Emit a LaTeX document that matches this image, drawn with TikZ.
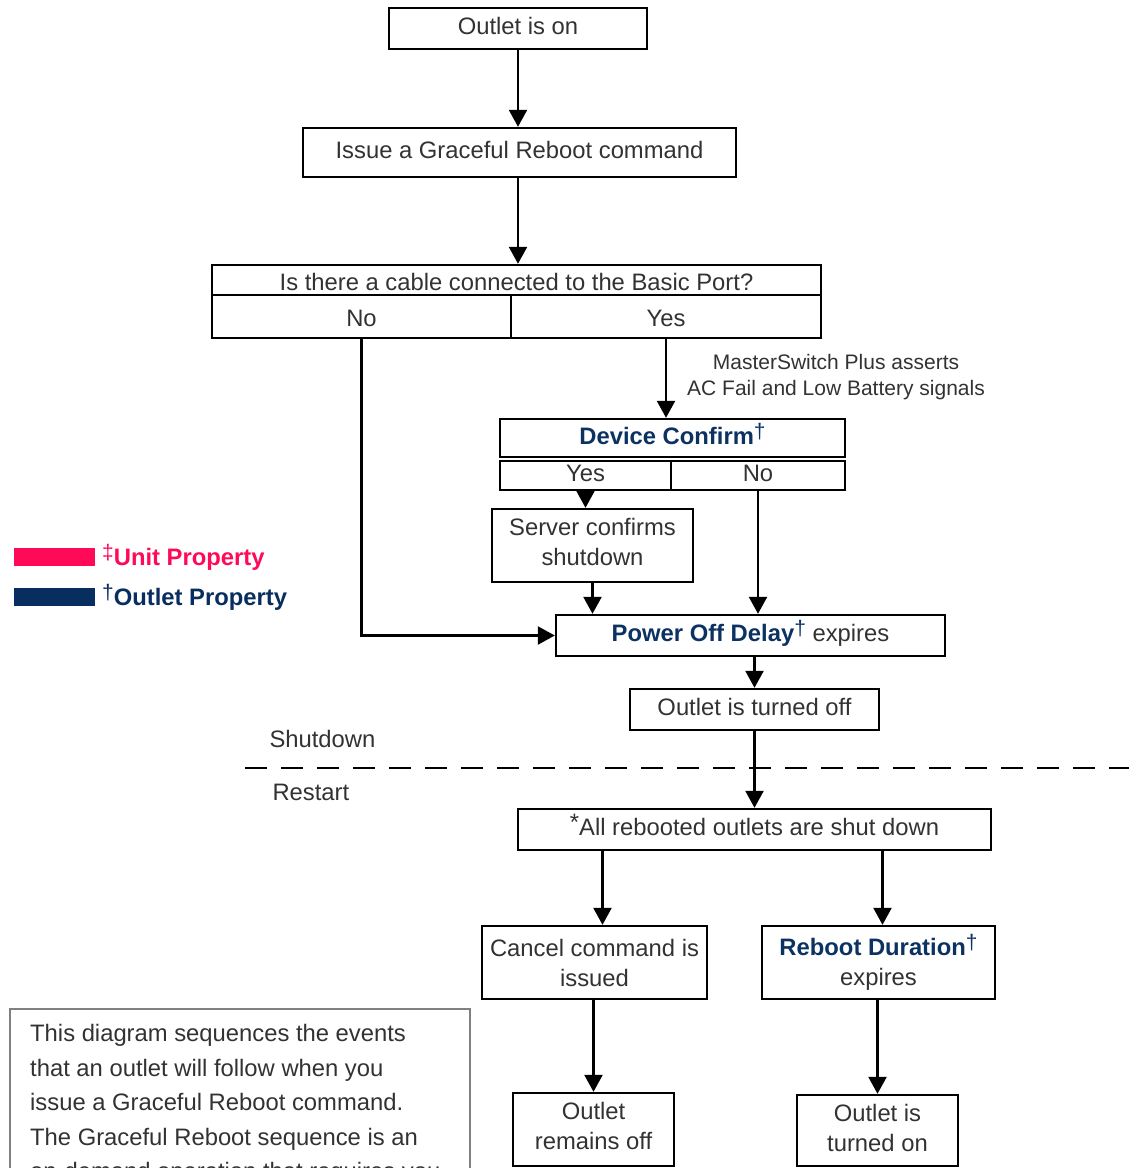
\documentclass[tikz,border=0pt]{standalone}
\usepackage{fontspec}
\setmainfont{Liberation Sans}
\usetikzlibrary{arrows.meta}
\definecolor{ink}{RGB}{50,50,50}
\definecolor{navy}{RGB}{12,50,98}
\definecolor{navybar}{RGB}{8,45,95}
\definecolor{rose}{RGB}{255,10,88}
\definecolor{framegray}{RGB}{128,128,128}
% raised reference marks
\newcommand{\dg}{\raisebox{6pt}{\fontsize{21}{21}\selectfont\mdseries †}}
\newcommand{\ddg}{\raisebox{6pt}{\fontsize{21}{21}\selectfont\mdseries ‡}}
\begin{document}
\begin{tikzpicture}[x=1pt,y=-1pt,
  txt/.style={text=ink, font=\fontsize{23.8}{30}\selectfont},
  box/.style={txt, draw=black, line width=2.4pt, rectangle, inner sep=0pt, align=center},
  one/.style={text height=17pt, text depth=5pt},
  low/.style={text height=21pt, text depth=1pt},
  sz/.style 2 args={minimum width=#1pt, minimum height=#2pt},
  arr/.style={line width=2.4pt, -{Triangle[length=17pt,width=18pt]}},
  wire/.style={line width=2.4pt}]
\useasboundingbox (0,0) rectangle (1129,1168);
\clip (0,0) rectangle (1129,1168);

% main flow boxes
\node[box,one,sz={258}{41}] (on) at (518,28.5) {Outlet is on};
\node[box,one,sz={433}{49}] (issue) at (519.5,152.5) {Issue a Graceful Reboot command};

% cable question
\node[box,low,sz={609}{30}] (q) at (516.5,280) {Is there a cable connected to the Basic Port?};
\node[box,low,sz={299}{43}] (qno) at (361.5,316.5) {No};
\node[box,low,sz={310}{43}] (qyes) at (666,316.5) {Yes};

% device confirm question
\node[box,one,sz={345}{38}] (dc) at (672.5,438) {{\color{navy}\bfseries Device Confirm}{\color{navy}\dg}};
\node[box,one,sz={171}{29}] (dcyes) at (585.5,475.5) {Yes};
\node[box,one,sz={174}{29}] (dcno) at (758,475.5) {No};

\node[box,sz={201}{73}] (server) at (592.5,545.5) {};
\node[txt,align=center] (serverT) at ([yshift=4pt]server.center) {Server confirms\\shutdown};
\node[box,one,sz={389}{41}] (pod) at (750.5,635.5) {{\color{navy}\bfseries Power Off Delay}{\color{navy}\dg} expires};
\node[box,one,sz={249}{41}] (off) at (754.5,709.5) {Outlet is turned off};
\node[box,one,sz={473}{41}] (all) at (754.5,829.5) {\raisebox{5pt}{*}All rebooted outlets are shut down};
\node[box,sz={225}{73}] (cancel) at (594.5,962.5) {Cancel command is\\issued};
\node[box,sz={233}{73}] (rd) at (878.5,962.5) {{\color{navy}\bfseries Reboot Duration}{\color{navy}\dg}\\expires};
\node[box,sz={161}{73}] (remains) at (593.5,1129.5) {};
\node[txt,align=center] (remainsT) at ([yshift=4pt]remains.center) {Outlet\\remains off};
\node[box,sz={161}{71}] (ton) at (877.5,1130.5) {};
\node[txt,align=center] (tonT) at ([yshift=3pt]ton.center) {Outlet is\\turned on};

% side note on the Yes branch
\node[text=ink, font=\fontsize{21}{26}\selectfont, align=center] (note) at (836,377) {MasterSwitch Plus asserts\\AC Fail and Low Battery signals};

% connectors
\draw[arr] (on.south) -- (on.south |- issue.north);
\draw[arr] (on.south |- issue.south) -- (on.south |- q.north);
\draw[arr] (qyes.south) -- (qyes.south |- dc.north);
\draw[arr] (dcyes.south) -- (dcyes.south |- server.north);
\draw[arr] (server.south) -- (server.south |- pod.north);
\draw[arr] (dcno.south) -- (dcno.south |- pod.north);
\draw[arr] (qno.south) |- (pod.west);
\draw[arr] (off.north |- pod.south) -- (off.north);
\draw[arr] (off.south) -- (off.south |- all.north);
\draw[arr] ([xshift=8pt]cancel.north |- all.south) -- ([xshift=8pt]cancel.north);
\draw[arr] ([xshift=4pt]rd.north |- all.south) -- ([xshift=4pt]rd.north);
\draw[arr] (cancel.south -| remains.north) -- (remains.north);
\draw[arr] (rd.south -| ton.north) -- (ton.north);

% shutdown / restart divider
\coordinate (dl) at (245,768);
\coordinate (dr) at (1129,768);
\draw[line width=1.4pt, dash pattern=on 22pt off 14pt] (dl) -- (dr);
\node[txt, anchor=west] (sd) at (266,739) {Shutdown};
\node[txt, anchor=west] (rs) at (269,792) {Restart};

% legend
\fill[rose] (14,548) rectangle (95,566);
\fill[navybar] (14,588) rectangle (95,606);
\node[anchor=west, inner sep=0pt, text=rose, font=\fontsize{23.8}{30}\selectfont\bfseries] (lu) at (102,557) {\ddg Unit Property};
\node[anchor=west, inner sep=0pt, text=navybar, font=\fontsize{23.8}{30}\selectfont\bfseries] (lo) at (102,597) {\dg Outlet Property};

% description panel
\draw[framegray, line width=1.6pt] (10,1009) rectangle (470,1220);
\node[txt, anchor=north west, inner sep=0pt, align=left, font=\fontsize{23.8}{34.6}\selectfont] (desc) at (30,1024)
  {This diagram sequences the events\\that an outlet will follow when you\\issue a Graceful Reboot command.\\The Graceful Reboot sequence is an\\on-demand operation that requires you};
\end{tikzpicture}
\end{document}
